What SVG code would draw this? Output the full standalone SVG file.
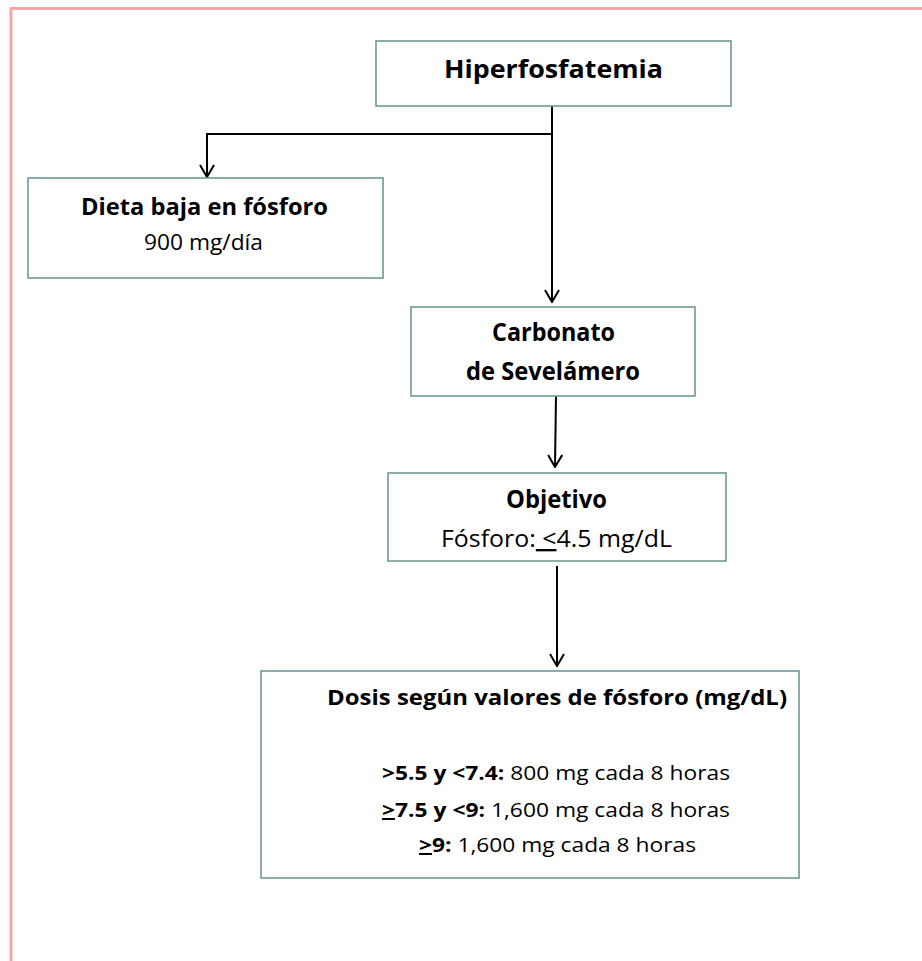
<svg xmlns="http://www.w3.org/2000/svg" width="922" height="961" viewBox="0 0 922 961">
<defs>
<style>
.frame{fill:none;stroke:#f2a7a7;stroke-width:3}
.box{fill:#fff;stroke:#6f9a94;stroke-width:1.6}
.con{fill:none;stroke:#000;stroke-width:2}
text{font-family:"Open Sans",Lato,"Liberation Sans",sans-serif;fill:#000}
.b{font-weight:bold}
.u{text-decoration:underline}
</style>
<marker id="arr" viewBox="0 0 14 16" refX="13" refY="8" markerWidth="14" markerHeight="16" markerUnits="userSpaceOnUse" orient="auto">
<path d="M1,1 L13,8 L1,15" fill="none" stroke="#000" stroke-width="2"/>
</marker>
</defs>
<rect width="922" height="961" fill="#fff"/>
<path class="frame" d="M11,980 L11,8.5 L930,8.5"/>
<g id="connectors">
<path class="con" d="M552,106 L552,302" marker-end="url(#arr)"/>
<path class="con" d="M552,134 L207,134 L207,177" marker-end="url(#arr)"/>
<path class="con" d="M556,396 L555,467" marker-end="url(#arr)"/>
<path class="con" d="M557,566 L557,666" marker-end="url(#arr)"/>
</g>
<g id="hiperfosfatemia">
<rect class="box" x="376" y="41" width="355" height="65"/>
<text class="b" x="444" y="78" font-size="25.5" textLength="219" lengthAdjust="spacingAndGlyphs">Hiperfosfatemia</text>
</g>
<g id="dieta">
<rect class="box" x="28" y="178" width="355" height="100"/>
<text class="b" x="81" y="215" font-size="23.3" textLength="247" lengthAdjust="spacingAndGlyphs">Dieta baja en fósforo</text>
<text x="144" y="250" font-size="21" textLength="119" lengthAdjust="spacingAndGlyphs">900 mg/día</text>
</g>
<g id="carbonato">
<rect class="box" x="411" y="307" width="284" height="89"/>
<text class="b" x="492" y="341" font-size="25" textLength="123" lengthAdjust="spacingAndGlyphs">Carbonato</text>
<text class="b" x="466" y="380" font-size="25" textLength="174" lengthAdjust="spacingAndGlyphs">de Sevelámero</text>
</g>
<g id="objetivo">
<rect class="box" x="388" y="473" width="338" height="88"/>
<text class="b" x="506" y="508" font-size="24.5" textLength="101" lengthAdjust="spacingAndGlyphs">Objetivo</text>
<text x="441" y="547" font-size="23.3" textLength="231" lengthAdjust="spacingAndGlyphs">Fósforo:<tspan class="u"> &lt;</tspan>4.5 mg/dL</text>
</g>
<g id="dosis">
<rect class="box" x="261" y="671" width="538" height="207"/>
<text class="b" x="327" y="705" font-size="21.9" textLength="460" lengthAdjust="spacingAndGlyphs">Dosis según valores de fósforo (mg/dL)</text>
<text x="382" y="780" font-size="19.5" textLength="348" lengthAdjust="spacingAndGlyphs"><tspan class="b">&gt;5.5 y &lt;7.4:</tspan> 800 mg cada 8 horas</text>
<text x="382" y="817" font-size="19.5" textLength="348" lengthAdjust="spacingAndGlyphs"><tspan class="b"><tspan class="u">&gt;</tspan>7.5 y &lt;9:</tspan> 1,600 mg cada 8 horas</text>
<text x="419" y="852" font-size="19.5" textLength="277" lengthAdjust="spacingAndGlyphs"><tspan class="b"><tspan class="u">&gt;</tspan>9:</tspan> 1,600 mg cada 8 horas</text>
</g>
</svg>
